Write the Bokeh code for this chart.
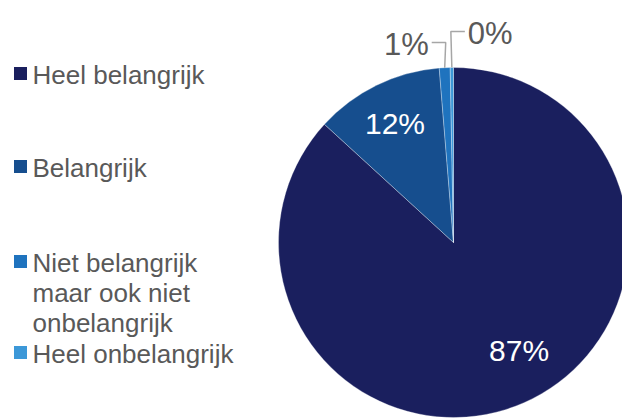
import numpy as np
from bokeh.plotting import figure
from bokeh.models import Range1d, ColumnDataSource
from bokeh.core.properties import value
from bokeh.embed import file_html
from bokeh.resources import INLINE

categories = ["Heel belangrijk", "Belangrijk", "Niet belangrijk\nmaar ook niet\nonbelangrijk", "Heel onbelangrijk"]
values = [86.8, 11.9, 1.0, 0.3]
labels = ["87%", "12%", "1%", "0%"]
colors = ["#1a1f5e", "#164e8e", "#1f73be", "#3c98d8"]

W, H = 622, 418
p = figure(width=W, height=H, output_backend="svg", toolbar_location=None,
           x_range=Range1d(0, W), y_range=Range1d(-H, 0),
           min_border=0)
p.axis.visible = False
p.grid.visible = False
p.outline_line_color = None
p.background_fill_color = "white"
p.border_fill_color = "white"

FONT = value("Liberation Sans")

# pie geometry (page pixel coordinates, y negated)
cx, cy, R = 453, -242, 175
vals = np.array(values, dtype=float)
frac = vals / vals.sum()
cum_after = np.cumsum(frac)
cum_before = cum_after - frac
start = np.pi / 2 - 2 * np.pi * cum_after
end = np.pi / 2 - 2 * np.pi * cum_before
mid = (start + end) / 2

src = ColumnDataSource(dict(start=start, end=end, color=colors))
p.wedge(x=cx, y=cy, radius=R, start_angle="start", end_angle="end",
        fill_color="color", line_color="white", line_width=0.6, line_alpha=0.5,
        source=src)

# inside labels
lx, ly, lt = [], [], []
for i in [0, 1]:
    lx.append(cx + 0.76 * R * np.cos(mid[i]))
    ly.append(cy + 0.76 * R * np.sin(mid[i]))
    lt.append(labels[i])
lx[0] += 12
ly[0] += 14
p.text(x=lx, y=ly, text=lt, text_color="white", text_font=FONT,
       text_font_size="30px", text_align="center", text_baseline="middle")

# outside labels with leader lines
grey = "#a6a6a6"
tc = "#595959"
rises = {2: 25, 3: 36}
sides = {2: -1, 3: 1}
for i in [2, 3]:
    ex = cx + R * np.cos(mid[i])
    ey = cy + R * np.sin(mid[i])
    top = cy + R + rises[i]
    hx = ex + sides[i] * 13
    p.line(x=[ex, ex - sides[i] * 1, hx], y=[ey, top, top], line_color=grey, line_width=1.5)
    p.text(x=[hx + sides[i] * 3], y=[top - 2], text=[labels[i]], text_color=tc,
           text_font=FONT, text_font_size="31px",
           text_align="right" if sides[i] < 0 else "left", text_baseline="alphabetic")

# legend
leg_y = [-73, -166, -261, -352]
p.scatter(x=[20] * 4, y=leg_y, marker="square", size=13, fill_color=colors, line_color=None)
p.text(x=[32] * 4, y=[y - 1 for y in leg_y], text=[c.split("\n")[0] for c in categories],
       text_color=tc, text_font=FONT, text_font_size="26px",
       text_align="left", text_baseline="middle")
extra = categories[2].split("\n")[1:]
p.text(x=[32] * len(extra), y=[leg_y[2] - 1 - 30 * (k + 1) for k in range(len(extra))], text=extra,
       text_color=tc, text_font=FONT, text_font_size="26px",
       text_align="left", text_baseline="middle")

open("out.html", "w").write(file_html(p, INLINE))
